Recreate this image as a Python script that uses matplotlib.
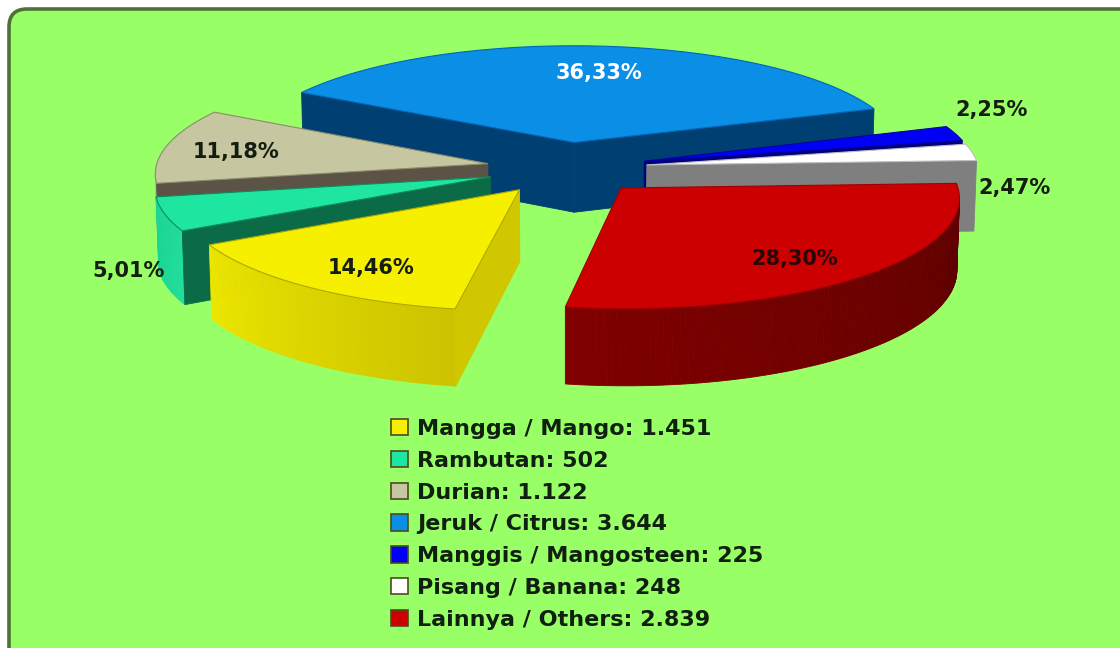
import numpy as np
import matplotlib
matplotlib.use('Agg')
import matplotlib.pyplot as plt
from matplotlib.patches import Polygon, FancyBboxPatch, Patch
from matplotlib.colors import to_rgb

# ---------------- data ----------------
categories = ['Mangga / Mango', 'Rambutan', 'Durian', 'Jeruk / Citrus',
              'Manggis / Mangosteen', 'Pisang / Banana', 'Lainnya / Others']
values = [1451, 502, 1122, 3644, 225, 248, 2839]
value_labels = ['1.451', '502', '1.122', '3.644', '225', '248', '2.839']
pct_labels = ['14,46%', '5,01%', '11,18%', '36,33%', '2,25%', '2,47%', '28,30%']

# ---------------- styles ----------------
top_colors = ['#F6F000', '#1EE6A0', '#C6C6A0', '#0A8EE6', '#0000F5', '#FFFFFF', '#CC0000']
radial_colors = ['#D0C700', '#0B6B46', '#5C5246', '#003F72', '#00007A', '#7F7F7F', '#700000']
# gradient along the curved side: colour at start angle -> colour at end angle
outer_a = ['#CDC300', '#22DE9C', '#BDBD95', '#0A6FB8', '#00008A', '#9A9A9A', '#5A0000']
outer_b = ['#EDE600', '#1AD494', '#B4B48C', '#004A85', '#00007A', '#8A8A8A', '#800000']
edge_colors = ['#B0A800', '#0E8A5A', '#8C8C6C', '#0068B8', '#0000A0', '#BFBFBF', '#A00000']
label_colors = ['#141E10', '#141E10', '#141E10', '#FFFFFF', '#141E10', '#141E10', '#2A0606']
label_dtheta = [-3.8, -19.4, -1.6, 1.2, -8.9, 17.6, 2.9]
label_rfrac = [0.778, 1.283, 0.777, 0.713, 1.207, 1.107, 0.777]

W, H = 1120, 648
fig = plt.figure(figsize=(W / 100, H / 100), dpi=100)
fig.patch.set_facecolor('white')
ax = fig.add_axes([0, 0, 1, 1])
ax.set_xlim(0, W)
ax.set_ylim(H, 0)
ax.axis('off')

# background panel
bg = FancyBboxPatch((9, 9), 1180, 700, boxstyle='round,pad=0,rounding_size=18',
                    facecolor='#99FF66', edgecolor='#4E7434', linewidth=2.6, zorder=0)
ax.add_patch(bg)

# ---------------- 3D pie geometry ----------------
R = 330.0
EXPL = 80.0
THICK = 75.0
DIST = 4000.0
PHI = np.arcsin(0.342)
X0, Y0 = 567.0, 239.0
START = 99.5
cam = np.array([0.0, DIST * np.cos(PHI), DIST * np.sin(PHI)])


def proj(P):
    P = np.atleast_2d(P)
    X, Y, Z = P[:, 0], P[:, 1], P[:, 2]
    d = DIST - Y * np.cos(PHI) - Z * np.sin(PHI)
    xs = X0 + DIST * X / d
    ys = Y0 + DIST * (Y * np.sin(PHI) - Z * np.cos(PHI)) / d
    return np.column_stack([xs, ys])


def visible(face, centroid):
    face = np.asarray(face)
    c = face.mean(axis=0)
    n = np.cross(face[1] - face[0], face[2] - face[0])
    if np.linalg.norm(n) < 1e-9:
        n = np.cross(face[2] - face[0], face[3] - face[0])
    if np.dot(n, c - centroid) < 0:
        n = -n
    return np.dot(n, cam - c) > 0


total = float(sum(values))
slices = []
a = START
for i, v in enumerate(values):
    span = 360.0 * v / total
    slices.append((i, a, a + span))
    a += span


def slice_depth(s):
    i, a0, a1 = s
    mid = np.radians((a0 + a1) / 2)
    return (EXPL + 0.5 * R) * np.sin(mid)


for i, a0, a1 in sorted(slices, key=slice_depth):
    mid = np.radians((a0 + a1) / 2)
    ox, oy = EXPL * np.cos(mid), EXPL * np.sin(mid)
    n = max(4, int((a1 - a0) * 1.5))
    th = np.radians(np.linspace(a0, a1, n))
    top = np.column_stack([ox + R * np.cos(th), oy + R * np.sin(th), np.full(n, THICK)])
    bot = np.column_stack([ox + R * np.cos(th), oy + R * np.sin(th), np.zeros(n)])
    apex_t = np.array([ox, oy, THICK])
    apex_b = np.array([ox, oy, 0.0])
    centroid = np.array([ox + 0.5 * R * np.cos(mid), oy + 0.5 * R * np.sin(mid), THICK / 2])

    # outer curved side with gradient
    ca, cb = np.array(to_rgb(outer_a[i])), np.array(to_rgb(outer_b[i]))
    for j in range(n - 1):
        quad = [top[j], top[j + 1], bot[j + 1], bot[j]]
        if visible(quad, centroid):
            t = j / max(1, n - 2)
            col = ca * (1 - t) + cb * t
            ax.add_patch(Polygon(proj(np.array(quad)), closed=True, facecolor=col,
                                 edgecolor=col, linewidth=0.6, zorder=2))
    # outline of the curved side (bottom rim)
    # radial cut faces
    for k in (0, n - 1):
        face = [apex_t, top[k], bot[k], apex_b]
        if visible(face, centroid):
            ax.add_patch(Polygon(proj(np.array(face)), closed=True, facecolor=radial_colors[i],
                                 edgecolor=radial_colors[i], linewidth=0.6, zorder=2))
    # top face
    poly = np.vstack([apex_t, top])
    ax.add_patch(Polygon(proj(poly), closed=True, facecolor=top_colors[i],
                         edgecolor=edge_colors[i], linewidth=0.8, zorder=2))

    # data label
    lt = mid + np.radians(label_dtheta[i])
    lr = label_rfrac[i] * R
    lp = proj(np.array([ox + lr * np.cos(lt), oy + lr * np.sin(lt), THICK]))[0]
    ax.text(lp[0], lp[1], pct_labels[i], ha='center', va='center',
            fontsize=15, fontweight='bold', family='DejaVu Sans',
            color=label_colors[i], zorder=5)

# ---------------- legend ----------------
handles = [Patch(facecolor=top_colors[i], edgecolor='#4B4B1E', linewidth=1.2)
           for i in range(len(values))]
labels = [f'{c}: {v}' for c, v in zip(categories, value_labels)]
ax.legend(handles, labels, loc='upper left', bbox_to_anchor=(391 / W, 1 - 419 / H),
          bbox_transform=fig.transFigure, frameon=False,
          prop=dict(family='DejaVu Sans', weight='bold', size=16),
          labelcolor='#102010', handlelength=0.78, handleheight=0.75,
          handletextpad=0.38, labelspacing=0.53, borderpad=0, borderaxespad=0)

fig.savefig('out.png', dpi=100, facecolor='white')
